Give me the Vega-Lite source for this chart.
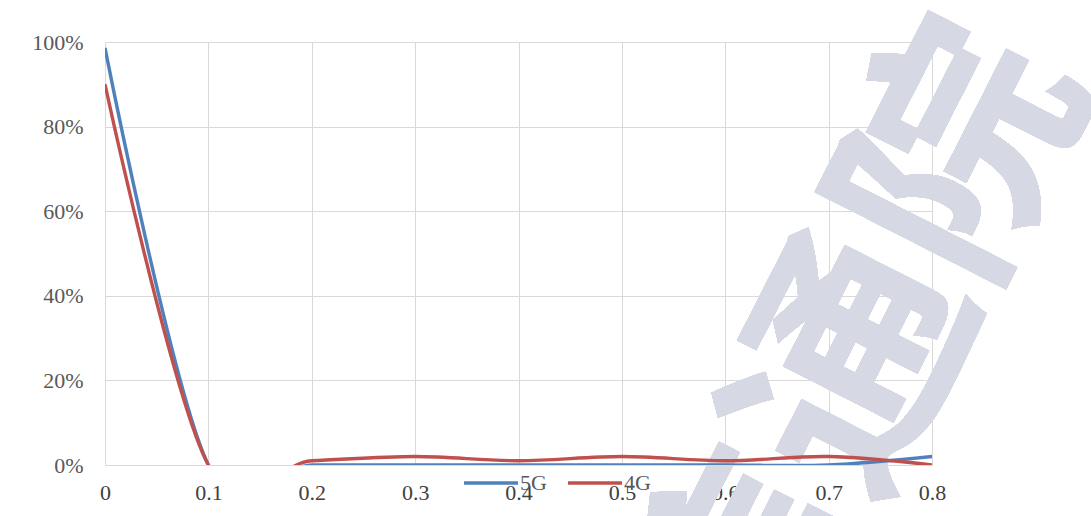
{
  "$schema": "https://vega.github.io/schema/vega-lite/v6.json",
  "width": 827,
  "height": 423,
  "autosize": {"type": "none"},
  "padding": {"left": 105, "top": 42, "right": 159, "bottom": 51},
  "background": "#ffffff",
  "config": {
    "view": {"stroke": null},
    "font": "Liberation Serif",
    "axis": {
      "labelFont": "Liberation Serif",
      "labelFontSize": 22,
      "labelColor": "#595959",
      "grid": true,
      "gridColor": "#d9d9d9",
      "gridWidth": 1,
      "domain": false,
      "ticks": false,
      "title": null,
      "labelFlush": false
    },
    "axisX": {"labelPadding": 17, "labelColor": "#404040", "zindex": 1},
    "axisY": {"labelPadding": 22, "zindex": 1}
  },
  "data": {
    "values": [
      {"x": 0.0, "share": 0.986, "net": "5G"},
      {"x": 0.1, "share": 0.0, "net": "5G"},
      {"x": 0.2, "share": 0.0, "net": "5G"},
      {"x": 0.3, "share": 0.0, "net": "5G"},
      {"x": 0.4, "share": 0.0, "net": "5G"},
      {"x": 0.5, "share": 0.0, "net": "5G"},
      {"x": 0.6, "share": 0.0, "net": "5G"},
      {"x": 0.7, "share": 0.0, "net": "5G"},
      {"x": 0.8, "share": 0.02, "net": "5G"},
      {"x": 0.0, "share": 0.90, "net": "4G"},
      {"x": 0.1, "share": 0.0, "net": "4G"},
      {"x": 0.2, "share": 0.01, "net": "4G"},
      {"x": 0.3, "share": 0.02, "net": "4G"},
      {"x": 0.4, "share": 0.01, "net": "4G"},
      {"x": 0.5, "share": 0.02, "net": "4G"},
      {"x": 0.6, "share": 0.01, "net": "4G"},
      {"x": 0.7, "share": 0.02, "net": "4G"},
      {"x": 0.8, "share": 0.0, "net": "4G"}
    ]
  },
  "layer": [
    {
      "mark": {
        "type": "text",
        "text": "信通院",
        "font": "Noto Sans CJK SC",
        "fontWeight": "bold",
        "fontSize": 240,
        "angle": -63,
        "align": "center",
        "baseline": "middle",
        "fill": "#d6d9e4",
        "clip": false
      },
      "encoding": {
        "x": {"datum": 0.732, "type": "quantitative", "axis": {"values": [0, 0.1, 0.2, 0.3, 0.4, 0.5, 0.6, 0.7, 0.8], "format": "~g", "grid": true}},
        "y": {"datum": 0.227, "type": "quantitative", "axis": {"values": [0, 0.2, 0.4, 0.6, 0.8, 1], "format": ".0%", "grid": true}}
      }
    },
    {
      "mark": {"type": "line", "interpolate": "cardinal", "tension": 0, "strokeWidth": 3.4, "clip": true},
      "encoding": {
        "x": {
          "field": "x", "type": "quantitative",
          "scale": {"domain": [0, 0.8], "nice": false, "zero": false},
          "axis": {"values": [0, 0.1, 0.2, 0.3, 0.4, 0.5, 0.6, 0.7, 0.8], "format": "~g", "grid": true}
        },
        "y": {
          "field": "share", "type": "quantitative",
          "scale": {"domain": [0, 1], "nice": false},
          "axis": {"values": [0, 0.2, 0.4, 0.6, 0.8, 1], "format": ".0%", "grid": true}
        },
        "color": {
          "field": "net", "type": "nominal",
          "scale": {"domain": ["5G", "4G"], "range": ["#4F81BD", "#C0504D"]},
          "legend": {
            "orient": "none",
            "legendX": 357,
            "legendY": 412,
            "direction": "horizontal",
            "title": null,
            "symbolType": "stroke",
            "symbolSize": 2916,
            "symbolStrokeWidth": 3.4,
            "labelFont": "Liberation Serif",
            "labelFontSize": 22,
            "labelColor": "#595959",
            "labelOffset": 0,
            "columnPadding": 14,
            "padding": 0
          }
        }
      }
    }
  ]
}
